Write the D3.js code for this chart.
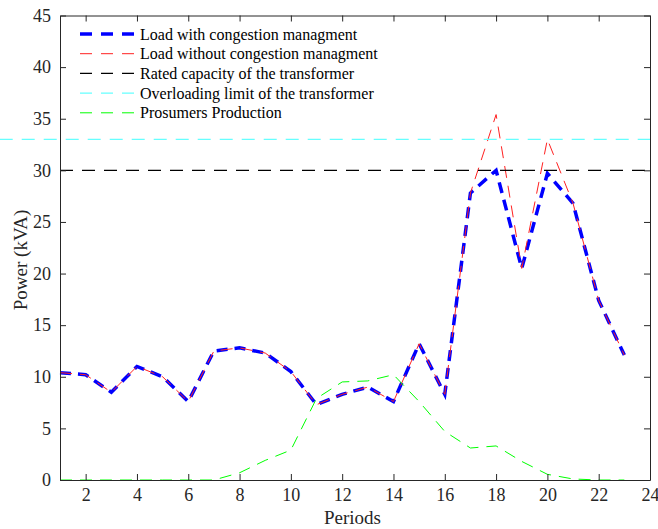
<!DOCTYPE html>
<html>
<head>
<meta charset="utf-8">
<script src="https://cdn.jsdelivr.net/npm/d3@7"></script>
<style>
  body { margin: 0; background: #fff; }
  svg text { font-family: 'Liberation Serif', 'Times New Roman', Times, serif; }
</style>
</head>
<body>
<div id="chart"></div>
<script>
// values
var periods = [1, 2, 3, 4, 5, 6, 7, 8, 9, 10, 11, 12, 13, 14, 15, 16, 17, 18, 19, 20, 21, 22, 23];
var loadWith = [10.4, 10.2, 8.5, 11.0, 10.0, 7.6, 12.5, 12.8, 12.3, 10.5, 7.3, 8.3, 9.0, 7.6, 13.2, 8.3, 27.8, 30.0, 20.5, 29.7, 26.8, 17.4, 12.1];
var loadWithout = [10.4, 10.2, 8.5, 11.0, 10.0, 7.6, 12.5, 12.8, 12.3, 10.5, 7.3, 8.3, 9.0, 7.6, 13.2, 8.3, 27.8, 35.4, 20.5, 33.0, 26.8, 17.4, 12.1];
var production = [0, 0, 0, 0, 0, 0, 0, 0.7, 1.9, 2.9, 7.9, 9.5, 9.6, 10.2, 7.6, 4.7, 3.1, 3.3, 1.8, 0.55, 0.1, 0, 0];
var ratedX = [1, 24], ratedY = [30, 30];
var overloadX = [-1.35, 24], overloadY = [33, 33];
var xTicks = [2, 4, 6, 8, 10, 12, 14, 16, 18, 20, 22, 24];
var yTicks = [0, 5, 10, 15, 20, 25, 30, 35, 40, 45];
var legendLabels = ["Load with congestion managment", "Load without congestion managment",
    "Rated capacity of the transformer", "Overloading limit of the transformer", "Prosumers Production"];

var width = 658, height = 529;
var margin = {top: 15.5, right: 8, bottom: 49, left: 60};
var w = width - margin.left - margin.right;
var h = height - margin.top - margin.bottom;
var axisColor = "#262626";
var serif = "'Liberation Serif', 'Times New Roman', Times, serif";

var svg = d3.select("#chart")
    .append("svg")
    .attr("width", width)
    .attr("height", height)
    .attr("font-family", serif);

var g = svg.append("g")
    .attr("transform", `translate(${margin.left},${margin.top})`);

var x = d3.scaleLinear().domain([1, 24]).range([0, w]);
var y = d3.scaleLinear().domain([0, 45]).range([h, 0]);

// series
var series = [
    {xs: periods, ys: loadWith, color: "#0000ff", width: 3.5, dash: "11,7"},
    {xs: periods, ys: loadWithout, color: "#ff2020", width: 1, dash: "12,8"},
    {xs: ratedX, ys: ratedY, color: "#000000", width: 1.2, dash: "13,9"},
    {xs: overloadX, ys: overloadY, color: "#66ffff", width: 1.2, dash: "13,9"},
    {xs: periods, ys: production, color: "#00ff00", width: 1, dash: "12,8"}
];

var line = d3.line().x(d => x(d[0])).y(d => y(d[1]));

series.forEach(function(s) {
    g.append("path")
        .datum(s.xs.map((v, i) => [v, s.ys[i]]))
        .attr("d", line)
        .attr("fill", "none")
        .attr("stroke", s.color)
        .attr("stroke-width", s.width)
        .attr("stroke-dasharray", s.dash);
});

// axes, matlab style box with inward ticks
function styleAxis(sel, labels) {
    sel.attr("font-family", serif).attr("font-size", 18);
    sel.select(".domain").attr("stroke", axisColor).attr("stroke-width", 1);
    sel.selectAll(".tick line").attr("stroke", axisColor);
    sel.selectAll(".tick text").attr("fill", axisColor);
    if (!labels) sel.selectAll(".tick text").remove();
}

g.append("g")
    .attr("transform", `translate(0,${h})`)
    .call(d3.axisBottom(x).tickValues(xTicks).tickSizeInner(-6).tickSizeOuter(0).tickPadding(8))
    .call(s => styleAxis(s, true));
g.append("g")
    .call(d3.axisTop(x).tickValues(xTicks).tickSizeInner(-6).tickSizeOuter(0))
    .call(s => styleAxis(s, false));
g.append("g")
    .call(d3.axisLeft(y).tickValues(yTicks).tickSizeInner(-6).tickSizeOuter(0).tickPadding(9))
    .call(s => styleAxis(s, true));
g.append("g")
    .attr("transform", `translate(${w},0)`)
    .call(d3.axisRight(y).tickValues(yTicks).tickSizeInner(-6).tickSizeOuter(0))
    .call(s => styleAxis(s, false));

// axis titles
svg.append("text")
    .attr("x", margin.left + x(12.4))
    .attr("y", 524)
    .attr("text-anchor", "middle")
    .attr("fill", axisColor)
    .attr("font-size", 19)
    .text("Periods");

svg.append("text")
    .attr("transform", "rotate(-90)")
    .attr("x", -260)
    .attr("y", 27)
    .attr("text-anchor", "middle")
    .attr("fill", axisColor)
    .attr("font-size", 19)
    .text("Power (kVA)");

// legend
var legend = svg.append("g").attr("transform", "translate(80,34)");
legendLabels.forEach(function(label, i) {
    var s = series[i];
    var row = legend.append("g").attr("transform", `translate(0,${i * 19.7})`);
    row.append("line")
        .attr("x1", 0).attr("x2", 55)
        .attr("stroke", s.color)
        .attr("stroke-width", s.width)
        .attr("stroke-dasharray", "12,9");
    row.append("text")
        .attr("x", 60)
        .attr("y", 5.5)
        .attr("fill", "#000")
        .attr("font-size", 16)
        .text(label);
});
</script>
</body>
</html>
